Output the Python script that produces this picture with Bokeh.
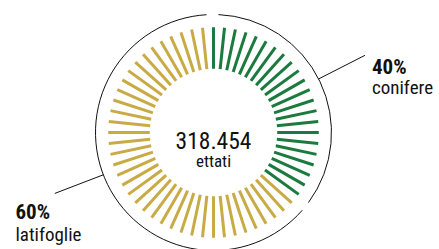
import numpy as np
from bokeh.plotting import figure
from bokeh.models import Range1d
from bokeh.core.properties import value
from bokeh.embed import file_html
from bokeh.resources import INLINE

# ---- data ----
categories = ["conifere", "latifoglie"]
percent_labels = ["40%", "60%"]
tick_counts = [22, 38]          # radial ticks per category
colors = ["#1b7a3d", "#c9ab46"]
total_label = "318.454"
unit_label = "ettati"

FONT = "Roboto Condensed"

W, H = 439, 249
p = figure(width=W, height=H, output_backend="svg", toolbar_location=None,
           x_range=Range1d(0, W), y_range=Range1d(0, H), min_border=0)
p.axis.visible = False
p.grid.visible = False
p.outline_line_color = None
p.background_fill_color = "white"
p.border_fill_color = "white"

cx, cy = 213.0, 117.0
r_in, r_out = 63.7, 105.3
r_ring = 118.0
r_lead = 170.0
leader_angles = [27.0, 201.0]
total = sum(tick_counts)
step = 360.0 / total
start = 90.0

# ticks
x0, y0, x1, y1, col = [], [], [], [], []
idx = 0
for k, n in enumerate(tick_counts):
    for j in range(n):
        a = np.deg2rad(start - (idx + j) * step)
        x0.append(cx + r_in * np.cos(a)); y0.append(cy + r_in * np.sin(a))
        x1.append(cx + r_out * np.cos(a)); y1.append(cy + r_out * np.sin(a))
        col.append(colors[k])
    idx += n
p.segment(x0=x0, y0=y0, x1=x1, y1=y1, line_color=col, line_width=3, line_cap="butt")

# outer arcs, leaders, labels
idx = 0
for k, n in enumerate(tick_counts):
    a_first = start - idx * step
    a_last = start - (idx + n - 1) * step
    sa = a_first - 2.4 if k == 0 else a_first + 0.8
    ea = a_last - 0.4 if k == 0 else a_last - 2.6
    p.arc(x=cx, y=cy, radius=r_ring, start_angle=np.deg2rad(sa), end_angle=np.deg2rad(ea),
          direction="clock", line_color="#111111", line_width=1)
    mid = np.deg2rad(leader_angles[k])
    lx0, ly0 = cx + r_ring * np.cos(mid), cy + r_ring * np.sin(mid)
    lx1, ly1 = cx + r_lead * np.cos(mid), cy + r_lead * np.sin(mid)
    p.segment(x0=[lx0], y0=[ly0], x1=[lx1], y1=[ly1], line_color="#111111", line_width=1)
    if np.cos(mid) >= 0:
        tx, ty1, ty2 = lx1 + 7, ly1 - 11.2, ly1 - 32.2
    else:
        tx, ty1, ty2 = lx1 - 39.3, ly1 - 18.8, ly1 - 40.6
    p.text(x=[tx], y=[ty1], text=[percent_labels[k]], text_font=value(FONT),
           text_font_size="21px", text_font_style="bold", text_color="#111111",
           text_baseline="alphabetic", text_align="left")
    p.text(x=[tx], y=[ty2], text=[categories[k]], text_font=value(FONT),
           text_font_size="19px", text_color="#111111",
           text_baseline="alphabetic", text_align="left")
    idx += n

p.text(x=[cx], y=[cy - 8], text=[total_label], text_font=value(FONT),
       text_font_size="23.5px", text_color="#111111", text_baseline="alphabetic", text_align="center")
p.text(x=[cx], y=[cy - 28], text=[unit_label], text_font=value(FONT),
       text_font_size="17px", text_color="#111111", text_baseline="alphabetic", text_align="center")

open("out.html", "w").write(file_html(p, INLINE))
